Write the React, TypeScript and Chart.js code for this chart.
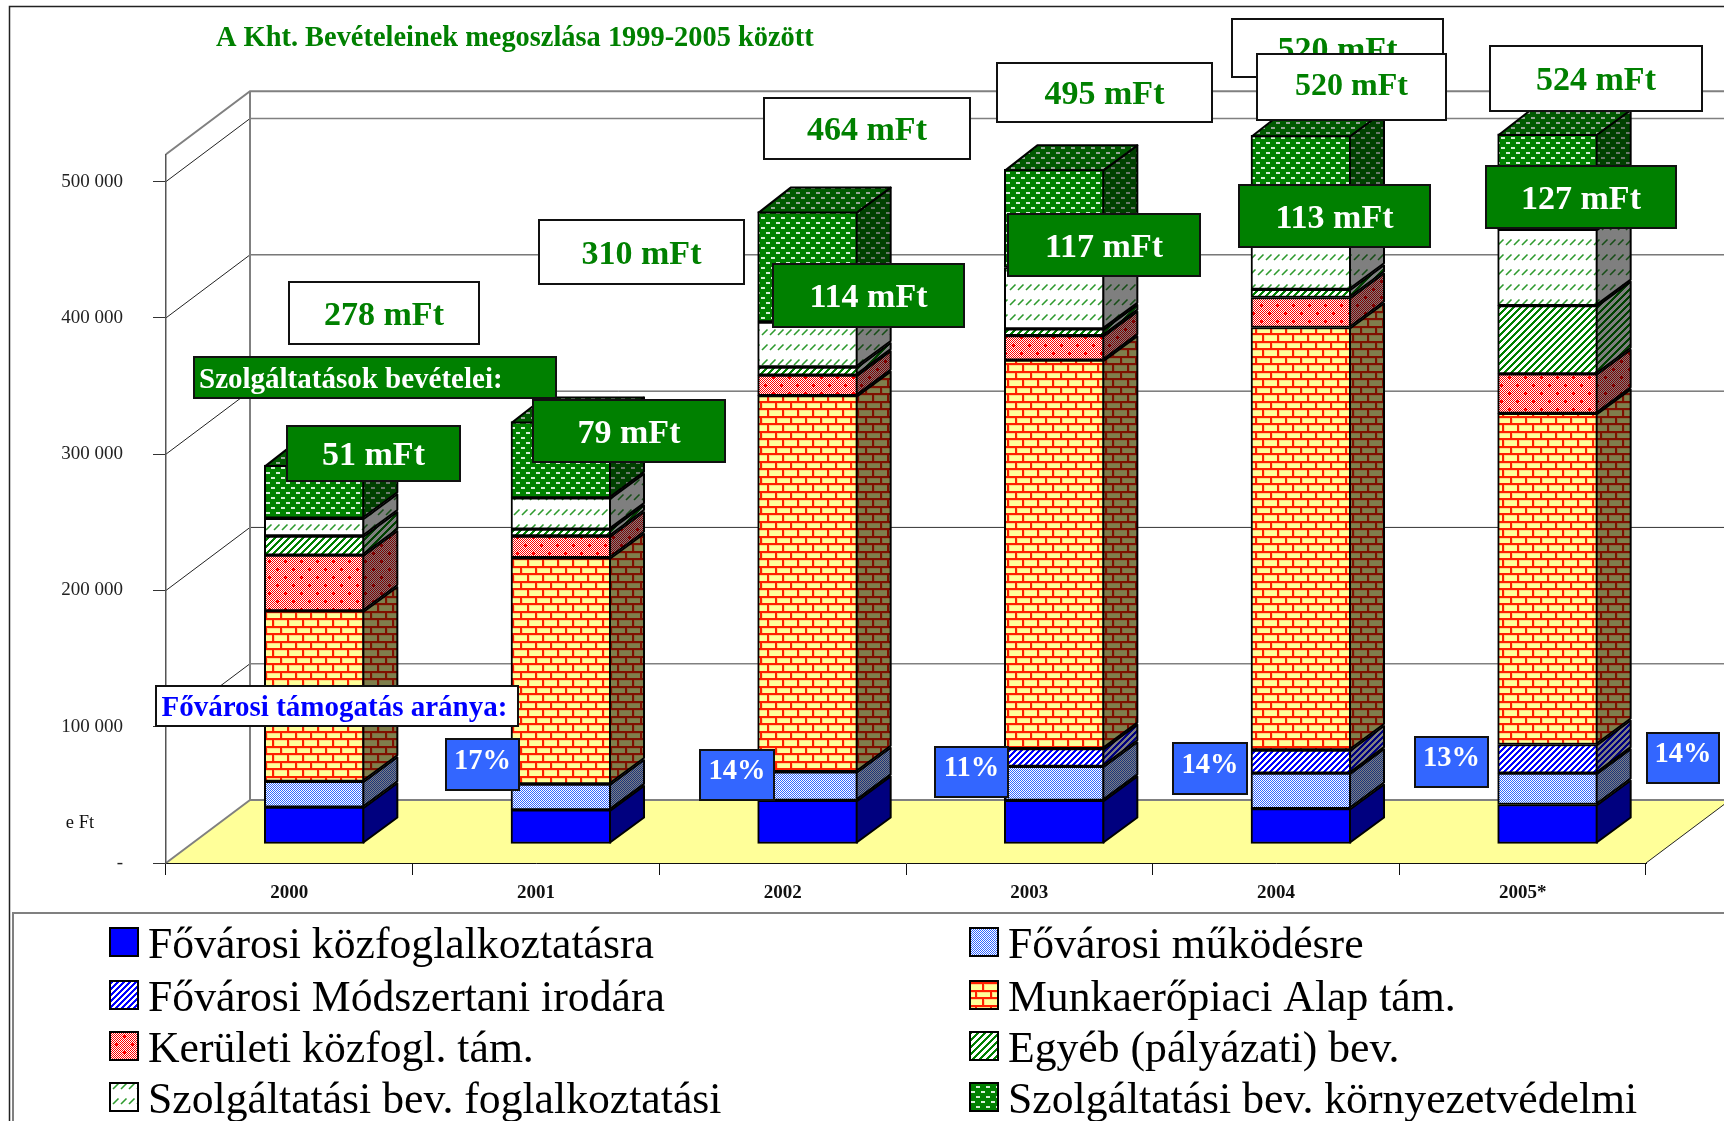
import React, { useEffect, useRef } from "react";
import { Chart, registerables } from "chart.js";

Chart.register(...registerables);

const categories = ["2000", "2001", "2002", "2003", "2004", "2005*"];
const seriesNames = [
  "Fővárosi közfoglalkoztatásra",
  "Fővárosi működésre",
  "Fővárosi Módszertani irodára",
  "Munkaerőpiaci Alap tám.",
  "Kerületi közfogl. tám.",
  "Egyéb (pályázati) bev.",
  "Szolgáltatási bev. foglalkoztatási",
  "Szolgáltatási bev. környezetvédelmi",
];
const kozfoglalkoztatas = [27000, 25000, 32000, 32000, 26000, 29000];
const mukodes = [19000, 19000, 21000, 25000, 26000, 23000];
const modszertani = [null, null, null, 13000, 17000, 21000];
const munkaeropiaci = [125000, 166000, 276000, 285000, 310000, 243000];
const keruleti = [41000, 16000, 15000, 18000, 22000, 29000];
const egyeb = [14000, 5000, 6000, 5000, 6000, 50000];
const foglalkoztatasi = [13000, 23000, 33000, 45000, 38000, 56000];
const kornyezetvedelmi = [39000, 56000, 81000, 72000, 75000, 70000];
const yTicks = [0, 100000, 200000, 300000, 400000, 500000];

const titleText = "A Kht. Bevételeinek megoszlása 1999-2005 között";
const unitText = "e Ft";
const servicesHeading = "Szolgáltatások bevételei:";
const supportHeading = "Fővárosi támogatás aránya:";
const totalLabels = ["278 mFt", "310 mFt", "464 mFt", "495 mFt", "520 mFt", "520 mFt", "524 mFt"];
const serviceLabels = ["51 mFt", "79 mFt", "114 mFt", "117 mFt", "113 mFt", "127 mFt"];
const shareLabels = ["17%", "14%", "11%", "14%", "13%", "14%"];

const FONT = '"Liberation Serif"';
const GREEN = "#008000";
// [left, top, right, bottom]
const totalBoxes = [
  [289, 282, 479, 344],
  [539, 220, 744, 284],
  [764, 98, 970, 159],
  [997, 63, 1212, 122],
  [1232, 19, 1443, 77],
  [1257, 54, 1446, 120],
  [1490, 46, 1702, 111],
];
const serviceBoxes = [
  [287, 426, 460, 481],
  [533, 400, 725, 462],
  [773, 264, 964, 327],
  [1008, 214, 1200, 276],
  [1239, 185, 1430, 247],
  [1486, 166, 1676, 228],
];
const shareBoxes = [
  [446, 739, 519, 790],
  [700, 750, 774, 800],
  [935, 747, 1008, 797],
  [1173, 743, 1247, 794],
  [1415, 737, 1488, 787],
  [1647, 733, 1719, 783],
];

function makePattern(w: number, h: number, paint: (c: CanvasRenderingContext2D) => void) {
  const cv = document.createElement("canvas");
  cv.width = w;
  cv.height = h;
  const c = cv.getContext("2d")!;
  paint(c);
  return c.createPattern(cv, "repeat")!;
}

function stripes(period: number, on: number, col: string) {
  return makePattern(period, period, (c) => {
    c.fillStyle = "#fff";
    c.fillRect(0, 0, period, period);
    c.fillStyle = col;
    for (let x = 0; x < period; x++)
      for (let y = 0; y < period; y++) if ((x + y) % period < on) c.fillRect(x, y, 1, 1);
  });
}

function checker(c: CanvasRenderingContext2D, w: number, h: number, col: string) {
  c.fillStyle = "#fff";
  c.fillRect(0, 0, w, h);
  c.fillStyle = col;
  for (let x = 0; x < w; x++) for (let y = 0; y < h; y++) if ((x + y) % 2 === 0) c.fillRect(x, y, 1, 1);
}

function buildFills() {
  const blue = "#0000FF";
  const lightBlue = makePattern(4, 4, (c) => checker(c, 4, 4, "#3366FF"));
  const hatchBlue = stripes(6, 3, "#0000FF");
  const brick = makePattern(30, 15, (c) => {
    c.fillStyle = "#FFFF99";
    c.fillRect(0, 0, 30, 15);
    const mortar = (col: string, grow: number) => {
      c.fillStyle = col;
      c.fillRect(0, 0, 30, 2 + grow);
      c.fillRect(0, 7, 30, 2 + grow);
      c.fillRect(0, 0, 2 + grow, 7);
      c.fillRect(15, 0, 2 + grow, 7);
      c.fillRect(7, 7, 2 + grow, 8);
      c.fillRect(22, 7, 2 + grow, 8);
    };
    mortar("#FFD880", 1);
    mortar("#FF2000", 0);
  });
  const redDots = makePattern(16, 16, (c) => {
    checker(c, 16, 16, "#FF0000");
    c.fillStyle = "#FF0000";
    [[4, 4], [12, 12]].forEach(([x, y]) => {
      c.fillRect(x - 2, y, 5, 1);
      c.fillRect(x, y - 2, 1, 5);
    });
  });
  const hatchGreen = stripes(7, 3, GREEN);
  const dashGreen = makePattern(16, 15, (c) => {
    c.fillStyle = "#fff";
    c.fillRect(0, 0, 16, 15);
    c.strokeStyle = "#2E9A2E";
    c.lineWidth = 1.6;
    [1, 9].forEach((x) => {
      c.beginPath();
      c.moveTo(x, 9);
      c.lineTo(x + 5.5, 3.5);
      c.stroke();
    });
  });
  const dotGreen = makePattern(10, 10, (c) => {
    c.fillStyle = GREEN;
    c.fillRect(0, 0, 10, 10);
    c.fillStyle = "#D8F0D8";
    c.fillRect(1, 1, 4, 2);
    c.fillRect(6, 6, 4, 2);
  });
  return [blue, lightBlue, hatchBlue, brick, redDots, hatchGreen, dashGreen, dotGreen];
}

const DEPTH_X = 84;
const DEPTH_Y = 63;
const BAR_SHIFT_X = 25;
const BAR_SHIFT_Y = -19;
const BAR_DEPTH_X = 33;
const BAR_DEPTH_Y = 25;

const roomPlugin = {
  id: "room",
  beforeDraw(chart: any) {
    const { ctx, chartArea: a, scales } = chart;
    const y = scales.y;
    const W = chart.width;
    const backX = a.left + DEPTH_X;
    const floorY = a.bottom - DEPTH_Y;
    const topY = a.top - DEPTH_Y;
    ctx.save();
    // page frames
    ctx.strokeStyle = "#222";
    ctx.lineWidth = 1.5;
    ctx.beginPath();
    ctx.moveTo(9.5, chart.height);
    ctx.lineTo(9.5, 6.5);
    ctx.lineTo(W, 6.5);
    ctx.stroke();
    ctx.strokeStyle = "#808080";
    ctx.lineWidth = 2;
    ctx.beginPath();
    ctx.moveTo(13, chart.height);
    ctx.lineTo(13, 913);
    ctx.lineTo(W, 913);
    ctx.stroke();
    // floor
    ctx.fillStyle = "#FFFF99";
    ctx.beginPath();
    ctx.moveTo(a.left, a.bottom);
    ctx.lineTo(backX, floorY);
    ctx.lineTo(W, floorY);
    ctx.lineTo(W, a.bottom - (W - a.right) * (DEPTH_Y / DEPTH_X));
    ctx.lineTo(a.right, a.bottom);
    ctx.closePath();
    ctx.fill();
    ctx.strokeStyle = "#222";
    ctx.lineWidth = 1;
    ctx.beginPath();
    ctx.moveTo(a.right, a.bottom);
    ctx.lineTo(W, a.bottom - (W - a.right) * (DEPTH_Y / DEPTH_X));
    ctx.stroke();
    // gridlines
    yTicks.slice(1).forEach((v) => {
      const py = y.getPixelForValue(v);
      ctx.strokeStyle = "#222";
      ctx.lineWidth = 1;
      ctx.beginPath();
      ctx.moveTo(a.left, py);
      ctx.lineTo(backX, py - DEPTH_Y);
      ctx.stroke();
      ctx.strokeStyle = v === 500000 || v === 100000 ? "#808080" : "#333";
      ctx.lineWidth = v === 500000 || v === 100000 ? 1.5 : 1;
      ctx.beginPath();
      ctx.moveTo(backX, py - DEPTH_Y);
      ctx.lineTo(W, py - DEPTH_Y);
      ctx.stroke();
    });
    // gray room edges
    ctx.strokeStyle = "#808080";
    ctx.lineWidth = 2;
    ctx.beginPath();
    ctx.moveTo(a.left, a.top);
    ctx.lineTo(backX, topY);
    ctx.lineTo(W, topY);
    ctx.moveTo(backX, topY);
    ctx.lineTo(backX, floorY);
    ctx.lineTo(W, floorY);
    ctx.moveTo(backX, floorY);
    ctx.lineTo(a.left, a.bottom);
    ctx.stroke();
    ctx.restore();
  },
  beforeDatasetDraw(chart: any) {
    chart.ctx.save();
    chart.ctx.translate(BAR_SHIFT_X, BAR_SHIFT_Y);
  },
  afterDatasetDraw(chart: any, args: any) {
    const { ctx } = chart;
    const meta = args.meta;
    const ds = chart.data.datasets[args.index];
    const isTop = args.index === chart.data.datasets.length - 1;
    meta.data.forEach((el: any, i: number) => {
      if (ds.data[i] === null) return;
      const r = el.x + el.width / 2;
      const l = el.x - el.width / 2;
      const path = (pts: number[][]) => {
        ctx.beginPath();
        pts.forEach(([px, py], k) => (k ? ctx.lineTo(px, py) : ctx.moveTo(px, py)));
        ctx.closePath();
      };
      const paint = (shade: number) => {
        ctx.fillStyle = ds.backgroundColor;
        ctx.fill();
        ctx.fillStyle = `rgba(0,0,0,${shade})`;
        ctx.fill();
        ctx.strokeStyle = "#000";
        ctx.lineWidth = 2;
        ctx.lineJoin = "round";
        ctx.stroke();
      };
      path([
        [r - 1, el.y + 1],
        [r + BAR_DEPTH_X, el.y - BAR_DEPTH_Y + 1],
        [r + BAR_DEPTH_X, el.base - BAR_DEPTH_Y - 1],
        [r - 1, el.base - 1],
      ]);
      paint(0.5);
      if (isTop) {
        path([
          [l + 1, el.y + 1],
          [l + BAR_DEPTH_X, el.y - BAR_DEPTH_Y + 1],
          [r + BAR_DEPTH_X, el.y - BAR_DEPTH_Y + 1],
          [r - 1, el.y + 1],
        ]);
        paint(0.3);
      }
    });
    ctx.restore();
  },
  afterDatasetsDraw(chart: any) {
    const { ctx } = chart;
    ctx.save();
    const text = (s: string, x: number, y: number, font: string, col: string, align: CanvasTextAlign = "center") => {
      ctx.font = font;
      ctx.fillStyle = col;
      ctx.textAlign = align;
      ctx.textBaseline = "middle";
      ctx.fillText(s, x, y);
    };
    const box = (b: number[], fill: string, label: string, font: string, col: string, dy: number) => {
      const [l, t, r, bt] = b;
      ctx.fillStyle = fill;
      ctx.fillRect(l, t, r - l, bt - t);
      ctx.strokeStyle = "#111";
      ctx.lineWidth = 2;
      ctx.strokeRect(l, t, r - l, bt - t);
      text(label, (l + r) / 2, (t + bt) / 2 + dy, font, col);
    };
    const big = `bold 34px ${FONT}`;
    text(titleText, 216, 39, `bold 28.4px ${FONT}`, GREEN, "left");
    text(unitText, 80, 823, `18.5px ${FONT}`, "#111");

    ctx.fillStyle = GREEN;
    ctx.fillRect(194, 357, 362, 41);
    ctx.strokeStyle = "#111";
    ctx.lineWidth = 2;
    ctx.strokeRect(194, 357, 362, 41);
    text(servicesHeading, 199, 381, `bold 29px ${FONT}`, "#fff", "left");

    totalBoxes.forEach((b, i) => {
      const frontOverlap = i === 5;
      box(b, "#fff", totalLabels[i], frontOverlap ? `bold 32px ${FONT}` : big, GREEN, frontOverlap ? 0 : 3);
    });
    serviceBoxes.forEach((b, i) => box(b, GREEN, serviceLabels[i], big, "#fff", 3));
    shareBoxes.forEach((b, i) => box(b, "#3366FF", shareLabels[i], `bold 28.5px ${FONT}`, "#fff", -3));

    ctx.fillStyle = "#fff";
    ctx.fillRect(156, 686, 362, 40);
    ctx.strokeRect(156, 686, 362, 40);
    text(supportHeading, 161.5, 709, `bold 29px ${FONT}`, "#0000FF", "left");

    // legend
    const rows = [928, 981, 1032, 1083];
    const cols = [
      { sw: 110, tx: 148, items: [0, 2, 4, 6] },
      { sw: 970, tx: 1008, items: [1, 3, 5, 7] },
    ];
    cols.forEach((col) =>
      col.items.forEach((idx, k) => {
        const ds = chart.data.datasets[idx];
        const y = rows[k];
        ctx.fillStyle = ds.backgroundColor;
        ctx.fillRect(col.sw, y, 28, 28);
        ctx.strokeStyle = "#000";
        ctx.lineWidth = 2;
        ctx.strokeRect(col.sw, y, 28, 28);
        text(ds.label, col.tx, y + 19, `43.7px ${FONT}`, "#000", "left");
      })
    );
    ctx.restore();
  },
};

export default function App() {
  const ref = useRef<HTMLCanvasElement>(null);
  useEffect(() => {
    const fills = buildFills();
    const values = [
      kozfoglalkoztatas,
      mukodes,
      modszertani,
      munkaeropiaci,
      keruleti,
      egyeb,
      foglalkoztatasi,
      kornyezetvedelmi,
    ];
    const chart = new Chart(ref.current!, {
      type: "bar",
      data: {
        labels: categories,
        datasets: values.map((data, i) => ({
          label: seriesNames[i],
          data,
          backgroundColor: fills[i],
          borderColor: "#000",
          borderWidth: 2,
          borderSkipped: false,
          barThickness: 100,
          clip: false,
        })),
      } as any,
      options: {
        responsive: false,
        animation: false,
        events: [],
        layout: { padding: { left: 0, top: 154.3, right: 78, bottom: 0 } },
        plugins: { legend: { display: false }, title: { display: false }, tooltip: { enabled: false } },
        scales: {
          x: {
            stacked: true,
            afterFit: (s: any) => {
              s.height = 258;
            },
            border: { display: true, color: "#111", width: 1 },
            grid: { drawOnChartArea: false, drawTicks: true, tickLength: 12, color: "#111", offset: true },
            ticks: { font: { family: FONT, size: 19, weight: "bold" }, color: "#111", padding: 7, maxRotation: 0 },
          },
          y: {
            stacked: true,
            min: 0,
            max: 520000,
            afterFit: (s: any) => {
              s.width = 166;
            },
            afterBuildTicks: (s: any) => {
              s.ticks = yTicks.map((value) => ({ value }));
            },
            border: { display: true, color: "#555", width: 1.5 },
            grid: { drawOnChartArea: false, drawTicks: true, tickLength: 13, color: "#333" },
            ticks: {
              padding: 30,
              font: { family: FONT, size: 19 },
              color: "#222",
              callback: (v: any) => (v === 0 ? "-" : `${v / 1000} 000`),
            },
          },
        },
      } as any,
      plugins: [roomPlugin],
    });
    return () => chart.destroy();
  }, []);
  return (
    <canvas
      ref={ref}
      width={1724}
      height={1121}
      style={{ position: "absolute", left: 0, top: 0, display: "block" }}
    />
  );
}
